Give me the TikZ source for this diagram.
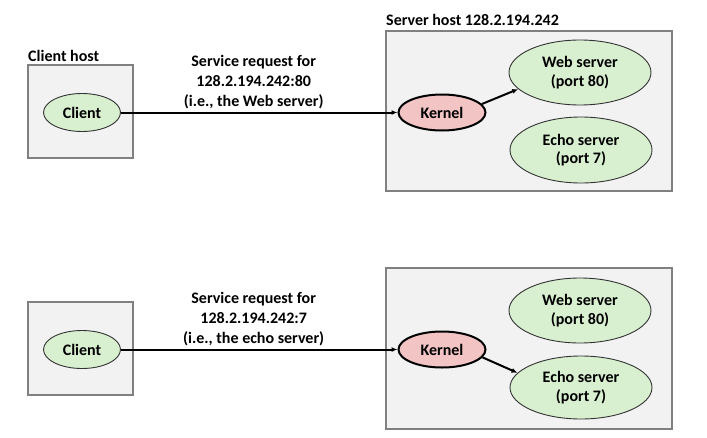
\documentclass[tikz,border=0pt]{standalone}
\usepackage{fontspec}
\setmainfont{Carlito}
\usepackage{tikz}
\usetikzlibrary{arrows.meta,positioning,shapes.geometric}
\definecolor{hostgray}{RGB}{242,242,242}
\definecolor{hostline}{RGB}{128,128,128}
\definecolor{procgreen}{RGB}{216,240,208}
\definecolor{kernpink}{RGB}{242,196,196}
\tikzset{
  >=Stealth,
  every node/.append style={font=\fontsize{16}{20}\selectfont\bfseries},
}
\tikzset{
  host/.style={draw=hostline, fill=hostgray, line width=1.5pt, inner sep=0pt},
  proc/.style={ellipse, draw=black!80, fill=procgreen, line width=0.9pt, inner sep=0pt, align=center,
    font=\fontsize{16}{18.5}\selectfont\bfseries},
  kern/.style={ellipse, draw=black, fill=kernpink, line width=2pt, inner sep=0pt, minimum width=87pt, minimum height=36pt},
  req/.style={-{Latex[length=6pt,width=5pt]}, line width=2pt},
  reqlabel/.style={above, align=center, inner sep=3pt}
}
\begin{document}
\begin{tikzpicture}[x=1pt, y=-1pt]
\useasboundingbox (0,0) rectangle (707,437);

% Top: request for the Web server
\node[host, minimum width=105pt, minimum height=93pt] (clihost1) at (80.5,111.5) {};
\node[anchor=base west, inner sep=0pt] (clihostlabel) at (28,61) {Client host};
\node[host, minimum width=286pt, minimum height=160pt] (srvhost1) at (529,111) {};
\node[anchor=base west, inner sep=0pt] (srvhostlabel) at (386,25) {Server host 128.2.194.242};

\node[proc, minimum width=77pt, minimum height=38pt] (cli1) at (82,112.5) {Client};
\node[kern] (ker1) at (442,112.5) {Kernel};
\node[proc, minimum width=142pt, minimum height=65pt] (web1) at (580,72.5) {Web server\\(port 80)};
\node[proc, minimum width=142pt, minimum height=66pt] (echo1) at (581,150) {Echo server\\(port 7)};

\draw[req] (cli1) -- node[reqlabel, pos=0.48] {Service request for\\128.2.194.242:80\\(i.e., the Web server)} (ker1);
\draw[req] (ker1.12) -- (web1.195);

% Bottom: request for the echo server
\node[host, minimum width=105pt, minimum height=93pt] (clihost2) at (80.5,348.5) {};
\node[host, minimum width=286pt, minimum height=161pt] (srvhost2) at (529,348.5) {};

\node[proc, minimum width=77pt, minimum height=38pt] (cli2) at (82,349.5) {Client};
\node[kern] (ker2) at (442,349.5) {Kernel};
\node[proc, minimum width=142pt, minimum height=65pt] (web2) at (580,310.5) {Web server\\(port 80)};
\node[proc, minimum width=142pt, minimum height=63pt] (echo2) at (581,387.5) {Echo server\\(port 7)};

\draw[req] (cli2) -- node[reqlabel, pos=0.48] {Service request for\\128.2.194.242:7\\(i.e., the echo server)} (ker2);
\draw[req] (ker2.349) -- (echo2.167);

\end{tikzpicture}
\end{document}
